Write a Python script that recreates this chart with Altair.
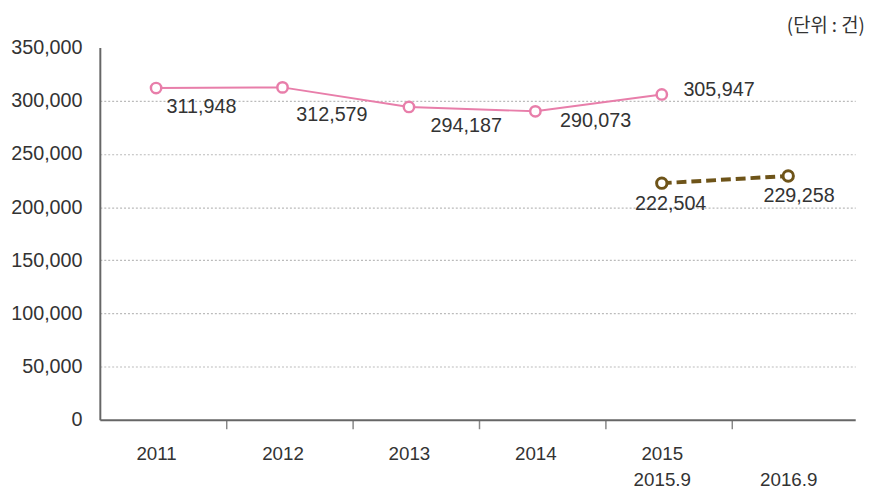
import json
import altair as alt
import pandas as pd

# ---- data ----
years_a = ["2011", "2012", "2013", "2014", "2015"]
values_a = [311948, 312579, 294187, 290073, 305947]
periods_b = ["2015.9", "2016.9"]
values_b = [222504, 229258]
label_line1 = ["2011", "2012", "2013", "2014", "2015", ""]
label_line2 = ["", "", "", "", "2015.9", "2016.9"]
y_ticks = [0, 50000, 100000, 150000, 200000, 250000, 300000, 350000]
unit_text = "(단위 : 건)"

df_a = pd.DataFrame({"idx": list(range(len(years_a))), "period": years_a, "value": values_a})
df_b = pd.DataFrame({"idx": [4, 5], "period": periods_b, "value": values_b})

# ---- style ----
FONT = "Liberation Sans"
PINK = "#E87EAA"
BROWN = "#6E5419"
TEXT = "#333333"
offsets_a = [(46, 19), (50, 28), (58, 19), (61, 10), (58, -4)]
offsets_b = [(9, 21), (11, 20)]

label_rows = [[a, b] for a, b in zip(label_line1, label_line2)]
label_expr = json.dumps(label_rows, ensure_ascii=False) + "[datum.value]"

x_enc = alt.X(
    "idx:Q",
    scale=alt.Scale(domain=[-0.445, 5.53], nice=False, zero=False),
    axis=alt.Axis(
        values=list(range(len(label_rows))),
        labelExpr=label_expr,
        title=None,
        grid=False,
        tickOffset=71,
        labelOffset=-71,
        tickSize=9,
        tickWidth=1.5,
        tickColor={"condition": {"test": "datum.value == 5", "value": "transparent"}, "value": "#888888"},
        labelFont=FONT,
        labelFontSize=19,
        labelColor=TEXT,
        labelPadding=16,
        labelLineHeight=27,
        labelOverlap=False,
        labelBound=False,
        labelFlush=False,
        domainColor="#666666",
        domainWidth=2,
    ),
)
y_enc = alt.Y(
    "value:Q",
    scale=alt.Scale(domain=[0, 350000], nice=False),
    axis=alt.Axis(
        values=y_ticks,
        labelExpr="format(datum.value, ',')",
        title=None,
        ticks=False,
        labelFont=FONT,
        labelFontSize=20,
        labelColor=TEXT,
        labelPadding=18,
        domainColor="#666666",
        domainWidth=2,
        gridColor={"condition": {"test": "datum.value == 0 || datum.value == 350000", "value": "transparent"}, "value": "#BBBBBB"},
        gridDash=[2, 2],
        gridWidth=1.2,
    ),
)

line_a = alt.Chart(df_a).mark_line(color=PINK, strokeWidth=2).encode(x=x_enc, y=y_enc)
pts_a = alt.Chart(df_a).mark_point(shape="circle", filled=True, fill="white", stroke=PINK,
                                   strokeWidth=2.5, size=110, opacity=1).encode(x=x_enc, y=y_enc)
line_b = alt.Chart(df_b).mark_line(color=BROWN, strokeWidth=4, strokeDash=[10, 5]).encode(x=x_enc, y=y_enc)
pts_b = alt.Chart(df_b).mark_point(shape="circle", filled=True, fill="white", stroke=BROWN,
                                   strokeWidth=3, size=110, opacity=1).encode(x=x_enc, y=y_enc)

layers = [line_a, line_b, pts_a, pts_b]
for df, offs in ((df_a, offsets_a), (df_b, offsets_b)):
    for i, (dx, dy) in enumerate(offs):
        layers.append(
            alt.Chart(df.iloc[[i]]).mark_text(dx=dx, dy=dy, font=FONT, fontSize=20, color=TEXT,
                                              align="center", baseline="middle")
            .encode(x=x_enc, y=y_enc, text=alt.Text("value:Q", format=","))
        )

chart = alt.layer(*layers).properties(
    width=765,
    height=377,
    title=alt.TitleParams(unit_text, anchor="end", fontSize=19, font="Noto Sans CJK KR",
                          color=TEXT, fontWeight="normal", offset=2, dx=6),
    padding={"left": 2, "right": 8, "top": 6, "bottom": 0},
).configure(background="white").configure_view(stroke=None)

chart.save("out.html", embed_options={"renderer": "svg", "actions": False})
